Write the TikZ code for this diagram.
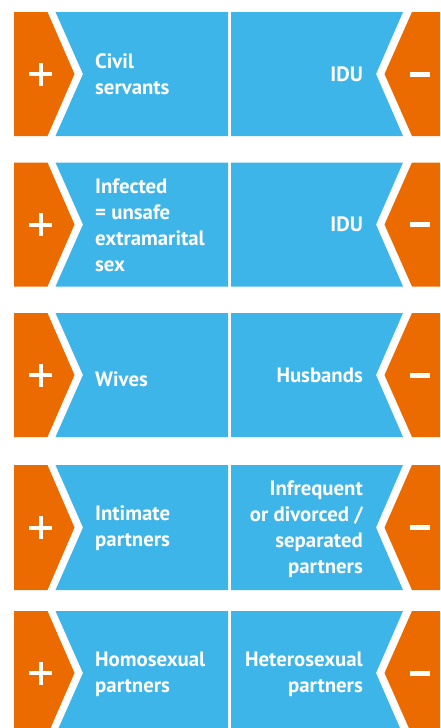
\documentclass[tikz,border=0pt]{standalone}
\usepackage{fontspec}
\setmainfont{PT Sans}
\definecolor{riskorange}{RGB}{236,107,0}
\definecolor{riskblue}{RGB}{62,181,232}
\tikzset{
 lefttxt/.style={text=white,font=\bfseries\fontsize{20.8}{26}\selectfont,align=left,anchor=west,inner sep=0pt},
 righttxt/.style={text=white,font=\bfseries\fontsize{20.8}{26}\selectfont,align=right,anchor=east,inner sep=0pt}
}
\begin{document}
\begin{tikzpicture}[x=1pt,y=-1pt]
 \useasboundingbox (0,0) rectangle (440,728);
 \clip (0,0) rectangle (440,728);
 % one band per row: top edge \t, bottom edge \b, tip height \c
 \foreach \t/\b in {12/136,162.5/286.5,313/437,465/590,611/735}{
  \pgfmathsetmacro{\c}{(\t+\b)/2}
  \fill[riskorange](14,\t)--(47.5,\t)--(74.5,\c)--(47.5,\b)--(14,\b)--cycle;
  \fill[riskblue](55.5,\t)--(228,\t)--(228,\b)--(55.5,\b)--(83,\c)--cycle;
  \fill[riskblue](231,\t)--(403,\t)--(376,\c)--(403,\b)--(231,\b)--cycle;
  \fill[riskorange](412,\t)--(445,\t)--(445,\b)--(412,\b)--(384.5,\c)--cycle;
  \fill[white](29,\c-2)rectangle(52,\c+2);
  \fill[white](38.5,\c-11.5)rectangle(42.5,\c+11.5);
  \fill[white](410,\c-2.5)rectangle(430,\c+2.5);
 }
 \node[lefttxt] (civil) at (95,74) {Civil\\servants};
 \node[righttxt] (idua) at (363,74) {IDU};
 \node[lefttxt] (infected) at (95,225) {Infected\\= unsafe\\extramarital\\sex};
 \node[righttxt] (idub) at (363,224) {IDU};
 \node[lefttxt] (wives) at (95,379) {Wives};
 \node[righttxt] (husbands) at (363,375) {Husbands};
 \node[lefttxt] (intimate) at (95,528) {Intimate\\partners};
 \node[righttxt] (infrequent) at (363,529) {Infrequent\\or divorced /\\separated\\partners};
 \node[lefttxt] (homo) at (95,674) {Homosexual\\partners};
 \node[righttxt] (hetero) at (363,674) {Heterosexual\\partners};
\end{tikzpicture}
\end{document}
